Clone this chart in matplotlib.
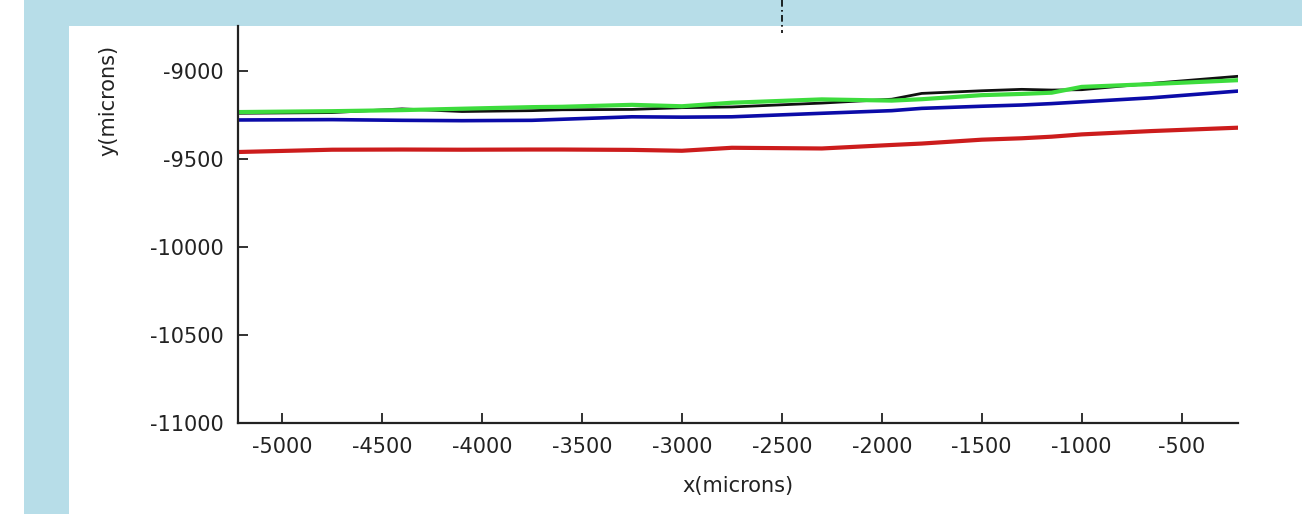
import matplotlib.pyplot as plt
from matplotlib.patches import Rectangle
from matplotlib.lines import Line2D

# positions along the scan (microns)
x_um = [-5220, -4750, -4400, -4100, -3750, -3600, -3250, -3000, -2750,
        -2300, -1950, -1800, -1500, -1300, -1150, -1000, -650, -220]

# y positions of the four traces (microns)
y_green = [-9233, -9228, -9222, -9214, -9205, -9203, -9192, -9200, -9180,
           -9161, -9168, -9160, -9137, -9130, -9123, -9090, -9074, -9052]
y_black = [-9240, -9236, -9215, -9230, -9225, -9220, -9218, -9208, -9204,
           -9182, -9160, -9127, -9112, -9104, -9108, -9106, -9070, -9030]
y_blue = [-9278, -9276, -9280, -9282, -9280, -9274, -9260, -9262, -9260,
          -9240, -9225, -9212, -9200, -9193, -9185, -9175, -9152, -9114]
y_red = [-9460, -9447, -9446, -9447, -9446, -9446, -9448, -9453, -9436,
         -9440, -9420, -9412, -9390, -9382, -9373, -9360, -9341, -9322]

x_ticks = [-5000, -4500, -4000, -3500, -3000, -2500, -2000, -1500, -1000, -500]
y_ticks = [-11000, -10500, -10000, -9500, -9000]

plt.rcParams['font.family'] = ['DejaVu Sans']
plt.rcParams['axes.unicode_minus'] = False

fig = plt.figure(figsize=(13.02, 5.14), dpi=100)
fig.patch.set_facecolor('#b7dde8')

# white page area behind the plot
fig.patches.append(Rectangle((69 / 1302, 0), 1 - 69 / 1302, 1 - 26 / 514,
                             transform=fig.transFigure, facecolor='white',
                             edgecolor='none', zorder=-2))
fig.patches.append(Rectangle((0, 0), 24 / 1302, 1, transform=fig.transFigure,
                             facecolor='white', edgecolor='none', zorder=-2))
# dash-dot marker poking out at the top
fig.lines.append(Line2D([782 / 1302, 782 / 1302], [1, 1 - 33 / 514],
                        transform=fig.transFigure, color='black', lw=1.2,
                        linestyle=(0, (4, 2, 1, 2)), zorder=5))

ax = fig.add_axes([237.7 / 1302, 91 / 514, 1000.3 / 1302, 397 / 514])
ax.set_facecolor('white')

ax.plot(x_um, y_red, color='#cc1c1c', lw=3)
ax.plot(x_um, y_blue, color='#0b0ba8', lw=2.6)
ax.plot(x_um, y_black, color='#111111', lw=2)
ax.plot(x_um, y_green, color='#3ddc3d', lw=3)

ax.set_xlim(-5222, -218)
ax.set_ylim(-11000, -8744)
ax.set_xticks(x_ticks)
ax.set_yticks(y_ticks)

for side in ['top', 'right']:
    ax.spines[side].set_visible(False)
for side in ['left', 'bottom']:
    ax.spines[side].set_linewidth(1.6)
    ax.spines[side].set_color('#222222')

ax.tick_params(direction='in', length=7, width=1.3, colors='#222222',
               labelsize=15, pad=10)

ax.set_xlabel('x(microns)', fontsize=15, color='#222222', labelpad=14)
ax.set_ylabel('y(microns)', fontsize=15, color='#222222')
ax.yaxis.set_label_coords(-0.1197, 0.8136)

fig.savefig('out.png', dpi=100, facecolor=fig.get_facecolor())
